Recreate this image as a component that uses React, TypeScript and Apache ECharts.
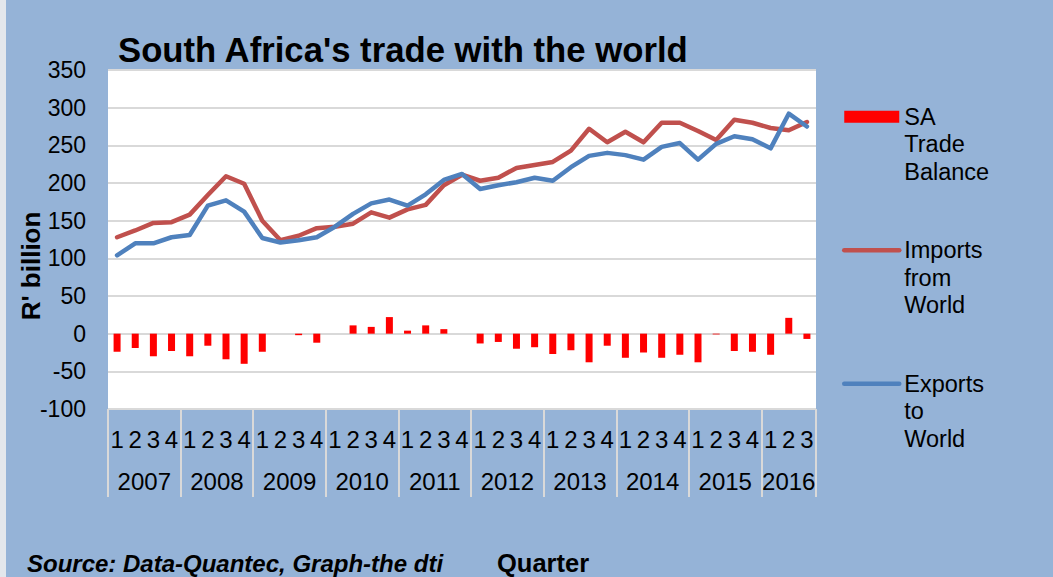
import React, { useEffect, useRef } from "react";
import * as echarts from "echarts";

const FONT = "'Liberation Sans', Arial, Helvetica, sans-serif";

const years = ["2007", "2008", "2009", "2010", "2011", "2012", "2013", "2014", "2015", "2016"];
const quartersInYear = [4, 4, 4, 4, 4, 4, 4, 4, 4, 3];

const imports = [
  128, 137, 147, 148, 158, 184, 209, 199, 150, 124, 130, 140, 142, 146, 161, 154, 165, 171, 197, 211,
  203, 207, 220, 224, 228, 243, 272, 254, 268, 254, 280, 280, 269, 257, 284, 280, 273, 270, 281,
];
const exportsW = [
  104, 120, 120, 128, 131, 170, 177, 162, 127, 121, 124, 128, 142, 159, 173, 178, 170, 185, 204, 212,
  192, 197, 201, 207, 203, 221, 236, 240, 237, 231, 248, 253, 231, 252, 262, 258, 246, 292, 275,
];
const balance = [
  -24, -19, -30, -23, -30, -16, -34, -40, -24, 0, -2, -12, 0, 11, 9, 22, 4, 11, 6, 0,
  -13, -11, -20, -18, -27, -22, -38, -16, -32, -25, -32, -28, -38, -1, -23, -24, -28, 21, -7,
];

const NAME_BAL = "SA\nTrade\nBalance";
const NAME_IMP = "Imports\nfrom\nWorld";
const NAME_EXP = "Exports\nto\nWorld";

export default function App() {
  const ref = useRef<HTMLDivElement>(null);

  useEffect(() => {
    if (!ref.current) return;
    const chart = echarts.init(ref.current, undefined, { renderer: "svg" });

    const quarterLabels: string[] = [];
    quartersInYear.forEach((n) => {
      for (let q = 1; q <= n; q++) quarterLabels.push(String(q));
    });
    const total = quarterLabels.length;

    const slots: string[] = new Array(total * 2 + 1).fill("");
    const labelSlots = new Set<number>();
    const tickSlots = new Set<number>();
    let s = 0;
    years.forEach((y, k) => {
      const n = quartersInYear[k];
      tickSlots.add(2 * s);
      slots[2 * s + n] = y;
      labelSlots.add(2 * s + n);
      s += n;
    });
    tickSlots.add(2 * total);

    const option: any = {
      animation: false,
      backgroundColor: "#95B3D7",
      textStyle: { fontFamily: FONT },
      title: {
        text: "South Africa's trade with the world",
        left: 118,
        top: 32,
        padding: 0,
        textStyle: { fontSize: 34.7, fontWeight: "bold", color: "#000", fontFamily: FONT },
      },
      legend: {
        orient: "vertical",
        left: 842,
        top: 48,
        padding: 0,
        itemGap: -4,
        itemWidth: 55,
        itemHeight: 12,
        formatter: (name: string) => "\n\n" + name,
        textStyle: {
          fontSize: 23.5,
          lineHeight: 27.5,
          color: "#000",
          fontFamily: FONT,
        },
        data: [
          { name: NAME_BAL, icon: "rect" },
          {
            name: NAME_IMP,
            itemStyle: { opacity: 0 },
            lineStyle: { width: 4.5, cap: "round", color: "#C0504D" },
          },
          {
            name: NAME_EXP,
            itemStyle: { opacity: 0 },
            lineStyle: { width: 4.5, cap: "round", color: "#4F81BD" },
          },
        ],
      },
      grid: {
        left: 108,
        right: 237,
        top: 70,
        bottom: 168,
        show: true,
        backgroundColor: "#FFFFFF",
        borderWidth: 0,
      },
      xAxis: [
        {
          type: "category",
          data: quarterLabels,
          boundaryGap: true,
          axisLine: { show: false },
          axisTick: { show: false },
          axisLabel: { interval: 0, margin: 18, fontSize: 24, color: "#000", fontFamily: FONT },
        },
        {
          type: "category",
          data: slots,
          boundaryGap: false,
          position: "bottom",
          axisLine: { show: false },
          axisTick: {
            show: true,
            length: 88,
            interval: (idx: number) => tickSlots.has(idx),
            lineStyle: { color: "#D9D9D9", width: 2 },
          },
          axisLabel: {
            interval: (idx: number) => labelSlots.has(idx),
            margin: 60,
            fontSize: 24,
            color: "#000",
            fontFamily: FONT,
          },
        },
      ],
      yAxis: {
        type: "value",
        min: -100,
        max: 350,
        interval: 50,
        axisLine: { show: false },
        axisTick: { show: false },
        axisLabel: { margin: 22, fontSize: 23, color: "#000", fontFamily: FONT },
        splitLine: { lineStyle: { color: "#D9D9D9", width: 2 } },
      },
      series: [
        {
          name: NAME_BAL,
          type: "bar",
          data: balance,
          barWidth: 7,
          itemStyle: { color: "#FF0000" },
        },
        {
          name: NAME_IMP,
          type: "line",
          data: imports,
          symbol: "none",
          lineStyle: { color: "#C0504D", width: 4.5, cap: "round", join: "round" },
          itemStyle: { color: "#C0504D" },
        },
        {
          name: NAME_EXP,
          type: "line",
          data: exportsW,
          symbol: "none",
          lineStyle: { color: "#4F81BD", width: 4.5, cap: "round", join: "round" },
          itemStyle: { color: "#4F81BD" },
        },
      ],
      graphic: [
        {
          type: "rect",
          shape: { x: 0, y: 0, width: 6, height: 577 },
          style: { fill: "#E3E7EC" },
        },
        {
          type: "text",
          x: 31,
          y: 266,
          rotation: Math.PI / 2,
          style: {
            text: "R' billion",
            font: `bold 26px ${FONT}`,
            fill: "#000",
            align: "center",
            verticalAlign: "middle",
          },
        },
        {
          type: "text",
          x: 27,
          y: 563,
          style: {
            text: "Source: Data-Quantec, Graph-the dti",
            font: `italic bold 24px ${FONT}`,
            fill: "#000",
            align: "left",
            verticalAlign: "middle",
          },
        },
        {
          type: "text",
          x: 497,
          y: 563,
          style: {
            text: "Quarter",
            font: `bold 25.5px ${FONT}`,
            fill: "#000",
            align: "left",
            verticalAlign: "middle",
          },
        },
      ],
    };

    chart.setOption(option);
    return () => chart.dispose();
  }, []);

  return (
    <div
      ref={ref}
      style={{ position: "absolute", left: 0, top: 0, width: 1053, height: 577 }}
    />
  );
}
